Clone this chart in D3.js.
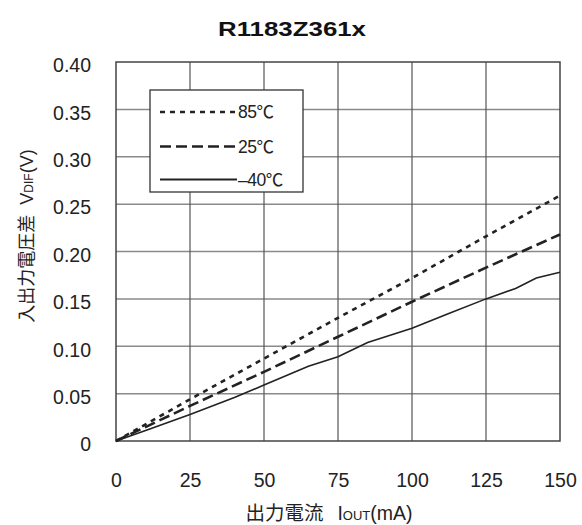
<!DOCTYPE html>
<html><head><meta charset="utf-8">
<script src="https://cdn.jsdelivr.net/npm/d3@7"></script>
<style>body{margin:0;background:#fff}svg{display:block}</style>
</head><body>
<script>
const title = "R1183Z361x";
const xTicks = [0, 25, 50, 75, 100, 125, 150];
const yTicks = [0, 0.05, 0.10, 0.15, 0.20, 0.25, 0.30, 0.35, 0.40];
const yTickLabels = ["0", "0.05", "0.10", "0.15", "0.20", "0.25", "0.30", "0.35", "0.40"];
const seriesNames = ["85℃", "25℃", "–40℃"];
const x85 = [0, 25, 50, 75, 100, 125, 150];
const y85 = [0, 0.044, 0.087, 0.130, 0.172, 0.216, 0.259];
const x25 = [0, 25, 50, 75, 100, 125, 150];
const y25 = [0, 0.037, 0.073, 0.110, 0.147, 0.183, 0.218];
const xm40 = [0, 10, 25, 40, 50, 65, 75, 85, 100, 112, 125, 135, 142, 150];
const ym40 = [0, 0.011, 0.028, 0.046, 0.059, 0.079, 0.089, 0.104, 0.119, 0.134, 0.150, 0.161, 0.172, 0.178];

const W = 582, H = 525;
const m = {left: 116, right: 22, top: 62, bottom: 84};
const svg = d3.select("body").append("svg").attr("width", W).attr("height", H);
const font = "'Liberation Sans', Arial, sans-serif";
const cjk = "'Liberation Sans', 'Noto Sans CJK JP', sans-serif";
const x = d3.scaleLinear().domain([0, 150]).range([m.left, W - m.right]);
const y = d3.scaleLinear().domain([0, 0.40]).range([H - m.bottom, m.top]);

// grid
svg.append("g").selectAll("line").data(yTicks.slice(1, -1)).join("line")
  .attr("x1", x(0)).attr("x2", x(150)).attr("y1", d => y(d)).attr("y2", d => y(d))
  .attr("stroke", "#8a8a8a").attr("stroke-width", 1.5);
svg.append("g").selectAll("line").data(xTicks.slice(1, -1)).join("line")
  .attr("y1", y(0)).attr("y2", y(0.40)).attr("x1", d => x(d)).attr("x2", d => x(d))
  .attr("stroke", "#555").attr("stroke-width", 1.2);
svg.append("rect").attr("x", x(0)).attr("y", y(0.40)).attr("width", x(150) - x(0)).attr("height", y(0) - y(0.40))
  .attr("fill", "none").attr("stroke", "#444").attr("stroke-width", 1.5);

// axes (labels only)
const xAxis = d3.axisBottom(x).tickValues(xTicks).tickSize(0).tickPadding(0);
const gx = svg.append("g").attr("transform", `translate(0,${y(0) + 46})`).call(xAxis);
gx.select(".domain").remove();
gx.selectAll("text").attr("font-family", font).attr("font-size", 19.5).attr("fill", "#222").attr("dy", 0);
const yAxis = d3.axisLeft(y).tickValues(yTicks).tickFormat((d, i) => yTickLabels[i]).tickSize(0).tickPadding(0);
const gy = svg.append("g").attr("transform", `translate(${x(0) - 25},0)`).call(yAxis);
gy.select(".domain").remove();
gy.selectAll("text").attr("font-family", font).attr("font-size", 19.5).attr("fill", "#222").attr("dy", "0.5em");

// title
svg.append("text").attr("x", 292).attr("y", 36).attr("text-anchor", "middle")
  .attr("font-family", font).attr("font-size", 20).attr("font-weight", "bold").attr("fill", "#111")
  .attr("textLength", 148).attr("lengthAdjust", "spacingAndGlyphs").text(title);

// axis titles
const xt = svg.append("text").attr("x", 329).attr("y", 520).attr("text-anchor", "middle")
  .attr("font-family", cjk).attr("font-size", 19.5).attr("fill", "#222");
xt.append("tspan").text("出力電流");
xt.append("tspan").attr("dx", 14).text("I");
xt.append("tspan").attr("font-size", 13).text("OUT");
xt.append("tspan").text("(mA)");
const yt = svg.append("text").attr("transform", `translate(33,236) rotate(-90)`).attr("text-anchor", "middle")
  .attr("font-family", cjk).attr("font-size", 18).attr("fill", "#222");
yt.append("tspan").text("入出力電圧差");
yt.append("tspan").attr("dx", 10).text("V");
yt.append("tspan").attr("font-size", 12).text("DIF");
yt.append("tspan").text("(V)");

// lines
const line = d3.line().x(d => x(d[0])).y(d => y(d[1]));
const series = [
  {xs: x85, ys: y85, dash: "5,5", w: 2.6},
  {xs: x25, ys: y25, dash: "11,5", w: 2.6},
  {xs: xm40, ys: ym40, dash: null, w: 1.6}
];
series.forEach(s => {
  svg.append("path").datum(s.xs.map((v, i) => [v, s.ys[i]])).attr("d", line)
    .attr("fill", "none").attr("stroke", "#222").attr("stroke-width", s.w)
    .attr("stroke-dasharray", s.dash);
});

// legend
const lg = svg.append("g");
lg.append("rect").attr("x", 150).attr("y", 90).attr("width", 153).attr("height", 102)
  .attr("fill", "#fff").attr("stroke", "#333").attr("stroke-width", 1.3);
const ly = [112, 146.5, 179.5];
series.forEach((s, i) => {
  lg.append("line").attr("x1", 160).attr("x2", 237).attr("y1", ly[i]).attr("y2", ly[i])
    .attr("stroke", "#222").attr("stroke-width", i === 2 ? 2 : 2.6).attr("stroke-dasharray", s.dash);
  lg.append("text").attr("x", 238).attr("y", ly[i] + 6).attr("font-family", cjk).attr("font-size", 17.5)
    .attr("letter-spacing", -0.5).attr("fill", "#222").text(seriesNames[i]);
});
</script>
</body></html>
